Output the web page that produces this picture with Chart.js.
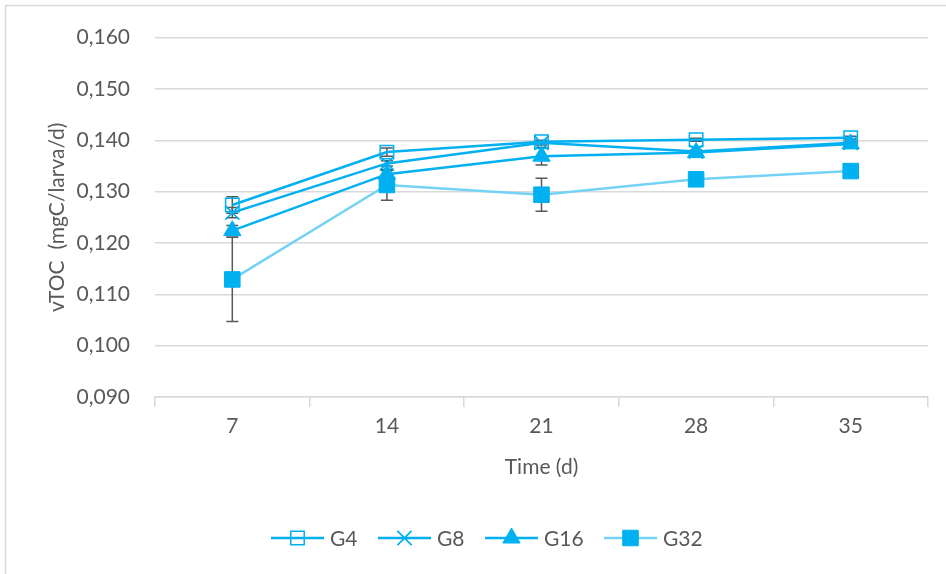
<!DOCTYPE html>
<html>
<head>
<meta charset="utf-8">
<script src="https://cdn.jsdelivr.net/npm/chart.js@4.4.1/dist/chart.umd.min.js"></script>
<style>
html,body{margin:0;padding:0;background:#fff;}
#wrap{position:relative;width:946px;height:574px;}
</style>
</head>
<body>
<div id="wrap"><canvas id="c" width="946" height="574"></canvas></div>
<script>
const categories = ['7', '14', '21', '28', '35'];
const seriesNames = ['G4', 'G8', 'G16', 'G32'];
const g4  = [0.1274, 0.1377, 0.1397, 0.1401, 0.1405];
const g8  = [0.1259, 0.1355, 0.1395, 0.1378, 0.1395];
const g16 = [0.1224, 0.1334, 0.1369, 0.1376, 0.1393];
const g32 = [0.1129, 0.1313, 0.1294, 0.1324, 0.1340];
const g4Err  = [0.0016, 0.0008, 0.0003, 0.0003, 0.0003];
const g8Err  = [0.0010, 0.0005, 0.0004, 0.0003, 0.0003];
const g16Err = [0.0010, 0.0007, 0.0017, 0.0003, 0.0003];
const g32Err = [0.0082, 0.0030, 0.0032, 0.0004, 0.0003];
const yTickValues = [0.090, 0.100, 0.110, 0.120, 0.130, 0.140, 0.150, 0.160];

const BLUE = '#00B0F0';
const LIGHT = '#75D2F5';
const TXT = '#595959';
const GRID = '#D9D9D9';
const FONT = 'Lato, "Open Sans", sans-serif';
const FS = 21;

const styles = [
  {line: BLUE, ps: 'rect', r: 9.5, fill: 'rgba(0,0,0,0)', bw: 1.5},
  {line: BLUE, ps: 'crossRot', r: 10, fill: BLUE, bw: 1.75},
  {line: BLUE, ps: 'triangle', r: 10, fill: BLUE, bw: 1},
  {line: LIGHT, ps: 'rect', r: 11, fill: BLUE, bw: 1}
];
const values = [g4, g8, g16, g32];
const errs = [g4Err, g8Err, g16Err, g32Err];

const datasets = seriesNames.map((n, i) => ({
  label: n,
  data: values[i],
  errors: errs[i],
  borderColor: styles[i].line,
  borderWidth: 2.5,
  pointStyle: styles[i].ps,
  pointRadius: styles[i].r,
  pointHoverRadius: styles[i].r,
  pointBackgroundColor: styles[i].fill,
  pointBorderColor: BLUE,
  pointBorderWidth: styles[i].bw,
  tension: 0,
  fill: false
}));

const errorBars = {
  id: 'errorBars',
  beforeDatasetsDraw(chart) {
    const ctx = chart.ctx;
    const y = chart.scales.y;
    ctx.save();
    ctx.strokeStyle = '#595959';
    ctx.lineWidth = 1.5;
    chart.data.datasets.forEach((ds, di) => {
      const meta = chart.getDatasetMeta(di);
      meta.data.forEach((pt, i) => {
        const v = ds.data[i], e = ds.errors[i];
        if (!e) return;
        const yt = y.getPixelForValue(v + e);
        const yb = y.getPixelForValue(v - e);
        const x = pt.x;
        ctx.beginPath();
        ctx.moveTo(x, yt); ctx.lineTo(x, yb);
        ctx.moveTo(x - 6, yt); ctx.lineTo(x + 6, yt);
        ctx.moveTo(x - 6, yb); ctx.lineTo(x + 6, yb);
        ctx.stroke();
      });
    });
    ctx.restore();
  }
};

const frameAndLegend = {
  id: 'frameAndLegend',
  afterDraw(chart) {
    const ctx = chart.ctx;
    ctx.save();
    ctx.strokeStyle = GRID;
    ctx.lineWidth = 1.5;
    ctx.beginPath();
    ctx.moveTo(5.5, 574); ctx.lineTo(5.5, 5.5); ctx.lineTo(946, 5.5);
    ctx.stroke();
    // legend
    const ly = 538;
    const starts = [271, 378, 485, 604];
    chart.data.datasets.forEach((ds, i) => {
      const x0 = starts[i];
      ctx.strokeStyle = ds.borderColor;
      ctx.lineWidth = 2.5;
      ctx.beginPath();
      ctx.moveTo(x0, ly); ctx.lineTo(x0 + 53, ly);
      ctx.stroke();
      ctx.fillStyle = ds.pointBackgroundColor;
      ctx.strokeStyle = ds.pointBorderColor;
      ctx.lineWidth = ds.pointBorderWidth;
      Chart.helpers.drawPoint(ctx, {pointStyle: ds.pointStyle, radius: ds.pointRadius, borderWidth: ds.pointBorderWidth, rotation: 0}, x0 + 26.5, ly);
      ctx.fillStyle = TXT;
      ctx.font = FS + 'px ' + FONT;
      ctx.textBaseline = 'middle';
      ctx.textAlign = 'left';
      ctx.fillText(ds.label, x0 + 59, ly + 1);
    });
    ctx.restore();
  }
};

new Chart(document.getElementById('c'), {
  type: 'line',
  data: {labels: categories, datasets},
  options: {
    responsive: false,
    animation: false,
    devicePixelRatio: 1,
    layout: {padding: {left: 0, right: 18, top: 34, bottom: 77}},
    plugins: {legend: {display: false}, tooltip: {enabled: false}},
    scales: {
      x: {
        offset: true,
        grid: {offset: true, drawOnChartArea: false, color: GRID, tickLength: 10, lineWidth: 1.5},
        border: {color: GRID, width: 1.5},
        ticks: {color: TXT, font: {family: FONT, size: FS}, padding: 7, maxRotation: 0},
        title: {display: true, text: 'Time (d)', color: TXT, font: {family: FONT, size: FS}, padding: {top: 0, bottom: 17}},
        afterFit(s) { s.height = 100; }
      },
      y: {
        min: 0.090, max: 0.160,
        afterBuildTicks(s) { s.ticks = yTickValues.map(v => ({value: v})); },
        grid: {color: GRID, drawTicks: false, lineWidth: 1.5},
        border: {display: false},
        ticks: {
          color: TXT, font: {family: FONT, size: FS}, padding: 25,
          callback: v => v.toFixed(3).replace('.', ',')
        },
        title: {display: true, text: 'vTOC  (mgC/larva/d)', color: TXT, font: {family: FONT, size: FS}, padding: {top: 45, bottom: 0}},
        afterFit(s) { s.width = 155; }
      }
    }
  },
  plugins: [errorBars, frameAndLegend]
});
</script>
</body>
</html>
